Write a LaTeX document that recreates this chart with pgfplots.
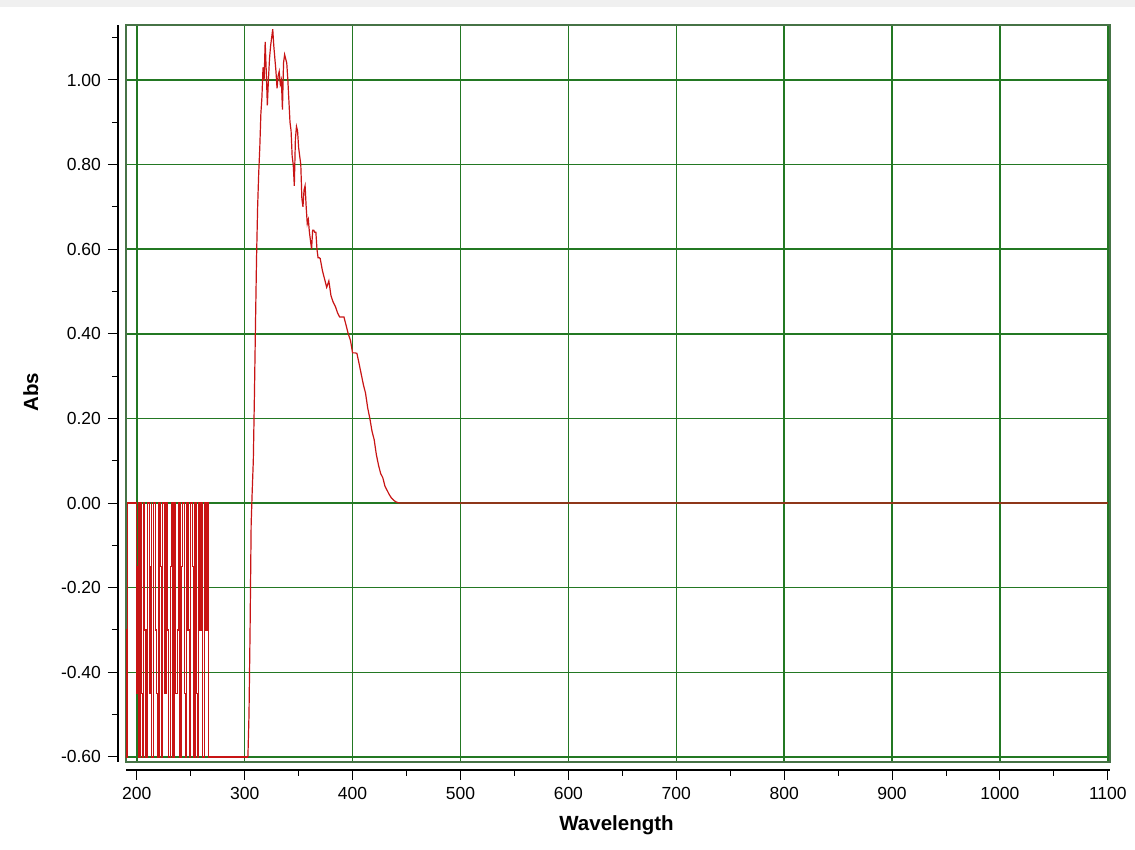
\documentclass[border=0pt]{standalone}
\usepackage{fontspec}
\setmainfont{Liberation Sans}
\usepackage{pgfplots}
\usepackage{pgfplotstable}
\pgfplotsset{compat=1.18}

\definecolor{gridgreen}{RGB}{35,120,35}
\definecolor{framegreen}{RGB}{70,115,70}
\definecolor{specred}{RGB}{200,20,20}

% noisy part below 305 nm, each value held until the next reading
\pgfplotstableread{
wl abs
190.0 -0.30
190.6 -0.60
191.4 0.00
200.0 -0.45
200.8 -0.15
201.6 0.00
202.0 -0.60
203.0 0.00
204.6 -0.45
205.2 -0.60
206.5 0.00
207.5 -0.30
208.5 -0.60
210.0 0.00
211.5 -0.45
212.5 -0.15
213.5 0.00
214.0 -0.60
215.5 0.00
217.0 -0.30
218.0 -0.45
219.5 -0.60
220.6 0.00
222.0 -0.15
223.0 -0.60
224.0 0.00
225.5 -0.45
227.0 0.00
228.0 -0.30
229.5 -0.60
231.0 -0.15
232.5 0.00
233.5 -0.60
235.0 0.00
236.0 -0.45
237.5 -0.30
238.5 0.00
240.0 -0.60
241.5 -0.15
242.5 0.00
244.0 -0.45
245.0 -0.60
246.0 0.00
247.5 -0.30
248.5 -0.60
250.0 0.00
251.5 -0.15
253.0 -0.60
254.0 0.00
255.5 -0.45
256.5 -0.60
257.5 0.00
258.5 -0.30
260.0 0.00
261.0 -0.60
262.5 0.00
263.5 -0.30
264.5 0.00
266.0 -0.30
266.8 -0.60
303.0 -0.60
}\noise

\pgfplotstableread{
wl abs
303 -0.60
304 -0.50
305 -0.30
306 -0.05
307 0.03
308 0.10
309 0.25
310 0.42
311 0.58
312 0.70
313 0.78
314 0.84
315 0.92
316 0.96
317 1.03
318 1.00
319 1.09
320 1.02
321 0.94
322 1.00
323 1.05
324 1.08
325 1.10
326 1.12
327 1.08
328 1.05
329 1.02
330 0.98
331 1.01
332 1.02
333 0.99
334 1.00
335 0.93
336 1.04
337 1.06
338 1.05
339 1.04
340 1.00
341 0.95
342 0.90
343 0.88
344 0.82
345 0.80
346 0.75
347 0.86
348 0.89
349 0.88
350 0.84
351 0.82
352 0.80
353 0.72
354 0.70
355 0.74
356 0.75
357 0.70
358 0.66
359 0.67
360 0.64
361 0.62
362 0.60
363 0.645
364 0.645
365 0.64
366 0.64
367 0.60
368 0.58
369 0.58
370 0.578
372 0.55
374 0.53
376 0.51
378 0.525
380 0.49
382 0.475
384 0.465
386 0.45
388 0.44
390 0.44
392 0.44
394 0.42
396 0.40
398 0.385
400 0.355
402 0.355
404 0.354
406 0.33
408 0.305
410 0.28
412 0.26
414 0.225
416 0.20
418 0.17
420 0.15
422 0.115
424 0.09
426 0.07
428 0.06
430 0.04
432 0.03
434 0.02
436 0.012
438 0.007
440 0.003
442 0.001
445 0.00
1100 0.00
}\spectrum

\pgfplotsset{
  common/.style={
    scale only axis,
    width=492pt, height=368.5pt,
    xmin=190, xmax=1102,
    ymin=-0.612, ymax=1.13,
    xtick={200,300,400,500,600,700,800,900,1000,1100},
    ytick={-0.6,-0.4,-0.2,0,0.2,0.4,0.6,0.8,1.0},
    anchor=south west,
    /pgf/number format/assume math mode=true,
    /pgf/number format/1000 sep={},
  },
  sideaxis/.style={
    common,
    axis line style={black, line width=0.6pt, -},
    tick align=outside,
    tick style={black, line width=0.5pt},
    major tick length=5pt,
    minor tick length=3pt,
    tick label style={font=\fontsize{8.75}{10}\selectfont},
  },
}

\begin{document}
\begin{tikzpicture}
\fill[white] (-63pt,-44pt) rectangle (504.5pt,381pt);
\fill[black!6] (-63pt,377.5pt) rectangle (504.5pt,381pt);

% plot area with grid and the spectrum
\begin{axis}[
    common,
    at={(0,0)},
    axis line style={framegreen, line width=0.8pt},
    grid=major,
    major grid style={gridgreen, line width=0.75pt},
    major tick length=0pt,
    xticklabels={}, yticklabels={},
    xlabel={\bfseries Wavelength},
    ylabel={\bfseries Abs},
    label style={font=\fontsize{10.25}{12}\selectfont},
    xlabel style={at={(axis description cs:0.4985,-0.0936)}, anchor=base},
    ylabel style={at={(axis description cs:-0.0894,0.502)}, anchor=base, rotate=0},
]
\addplot[specred, line width=0.6pt, const plot] table[x=wl, y=abs] {\noise};
\addplot[specred, line width=0.6pt] table[x=wl, y=abs] {\spectrum};
\end{axis}

% x axis, set off below the plot area
\begin{axis}[
    sideaxis,
    at={(0,-4pt)},
    axis x line*=bottom,
    hide y axis,
    minor xtick={250,350,450,550,650,750,850,950,1050},
]
\addplot[draw=none] coordinates {(200,0)};
\end{axis}

% y axis, set off left of the plot area
\begin{axis}[
    sideaxis,
    at={(-4pt,0)},
    axis y line*=left,
    hide x axis,
    minor ytick={-0.5,-0.3,-0.1,0.1,0.3,0.5,0.7,0.9,1.1},
    yticklabel style={/pgf/number format/.cd, fixed, fixed zerofill, precision=2},
]
\addplot[draw=none] coordinates {(200,0)};
\end{axis}

\pgfresetboundingbox
\path[use as bounding box] (-63pt,-44pt) rectangle (504.5pt,381pt);
\end{tikzpicture}
\end{document}
